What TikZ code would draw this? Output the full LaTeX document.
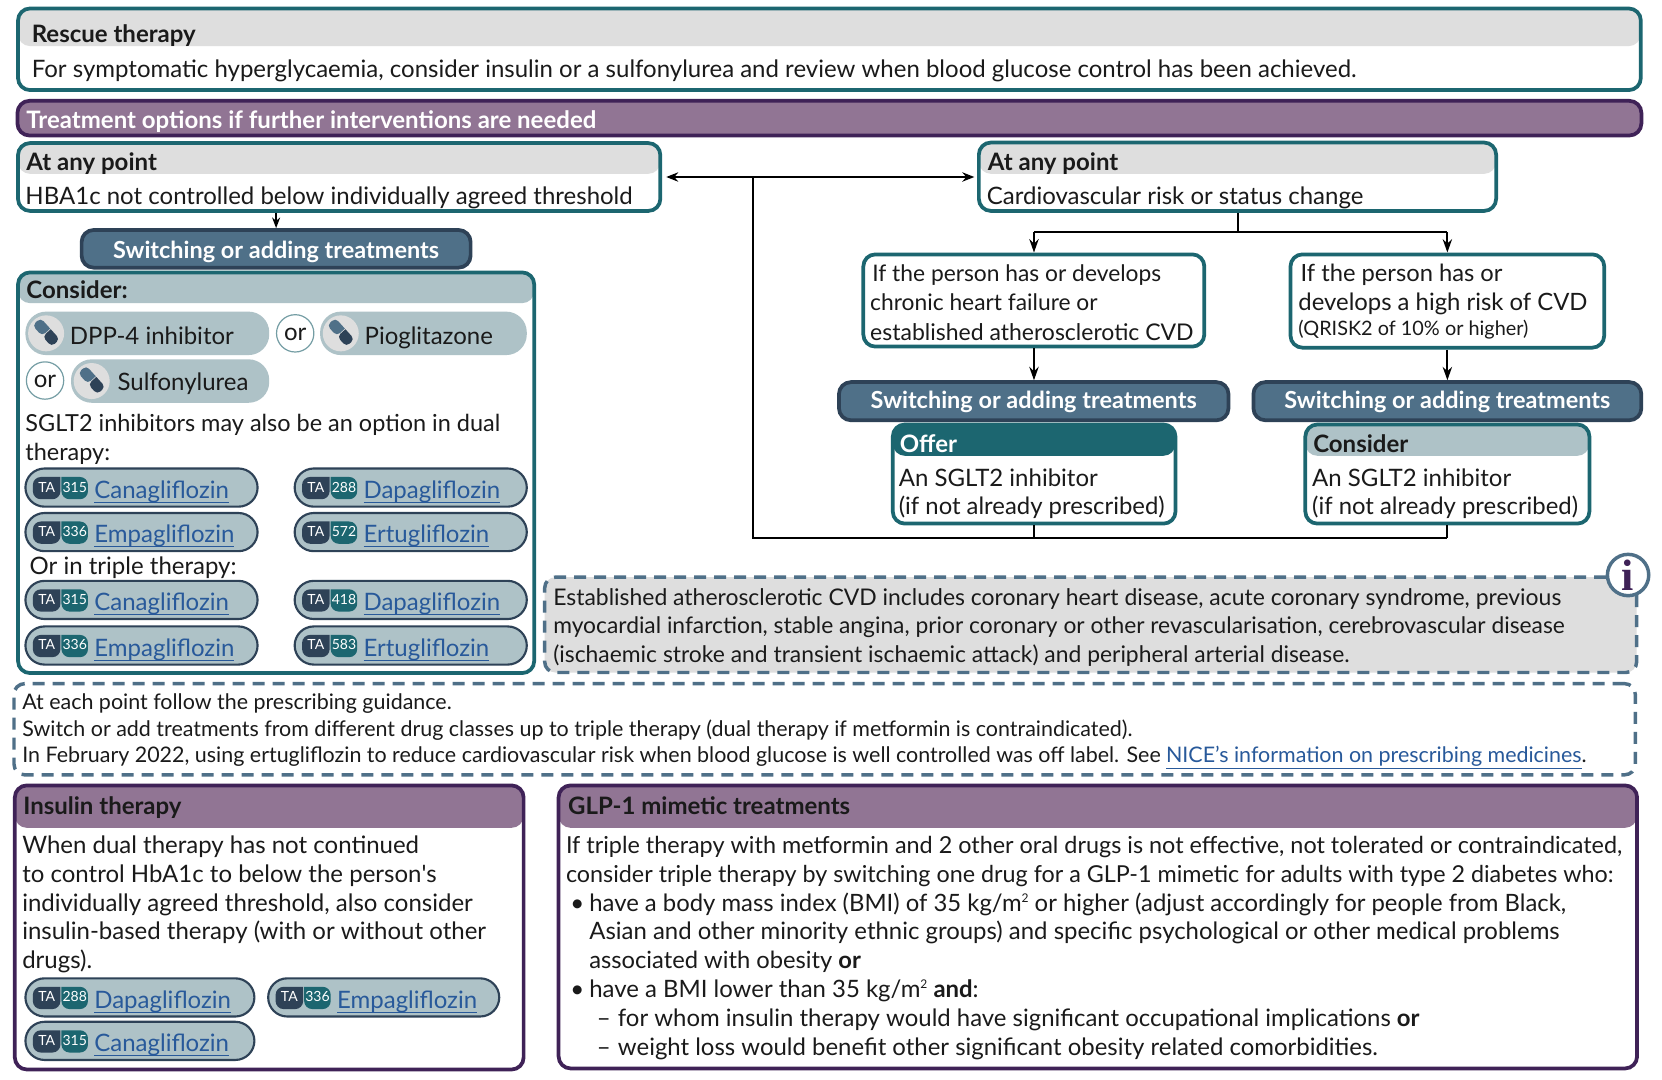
\documentclass[tikz,border=0pt]{standalone}
\usepackage{fontspec}
\setmainfont{Lato}
\newfontfamily\infofont{Liberation Serif}
\newfontfamily\rawlato{Lato}
\usetikzlibrary{arrows.meta}
\definecolor{tealc}{HTML}{1C6670}
\definecolor{greyh}{HTML}{DEDEDE}
\definecolor{purp}{HTML}{917594}
\definecolor{purpd}{HTML}{3F2257}
\definecolor{slate}{HTML}{4F7088}
\definecolor{slated}{HTML}{2E4257}
\definecolor{pale}{HTML}{AEC2C7}
\definecolor{linkc}{HTML}{28599A}
\definecolor{ink}{HTML}{1A1A1A}
\tikzset{
  x=0.795pt,y=-0.795pt,
  txt/.style={anchor=base west,inner sep=0pt,outer sep=0pt,font=\fontsize{18}{20}\selectfont,text=ink},
  fs/.style={font=\fontsize{#1}{20}\selectfont},
  headtxt/.style={txt,font=\fontsize{18}{20}\selectfont\bfseries,text=ink},
  whitetxt/.style={headtxt,text=white},
  conn/.style={draw=black,line width=1.5pt,-{Stealth[length=10pt,width=7pt]}},
  shortconn/.style={draw=black,line width=1.3pt,-{Stealth[length=8pt,width=6pt]}},
  plainconn/.style={draw=black,line width=1.5pt},
  dashbox/.style={draw=slate,line width=2.6pt,dash pattern=on 9pt off 6pt,rounded corners=8pt,inner sep=0pt},
}
% \mybox{name}{x1}{y1}{x2}{y2}{border}{header colour}{header height}
\newcommand{\mybox}[8]{%
  \pgfmathsetmacro{\bw}{(#4-#2)*0.795}\pgfmathsetmacro{\bh}{(#5-#3)*0.795}%
  \pgfmathsetmacro{\hh}{#8*0.795}%
  \node[draw=#6,line width=2.8pt,fill=white,rounded corners=9pt,minimum width=\bw pt,minimum height=\bh pt,inner sep=0pt,
    path picture={\fill[#7] (path picture bounding box.north west) rectangle ([yshift=-\hh pt]path picture bounding box.north east);}]
    (#1) at ({(#2+#4)/2},{(#3+#5)/2}) {};%
}
\newcommand{\swh}{12.5pt}
\newcommand{\swbar}[5]{%
  \pgfmathsetmacro{\bw}{(#4-#2)*0.795}\pgfmathsetmacro{\bh}{(#5-#3)*0.795}%
  \node[draw=slated,line width=2.8pt,fill=slate,rounded corners=9pt,minimum width=\bw pt,minimum height=\bh pt,inner sep=0pt,text=white,
    text depth=1pt,text height=\swh,font=\fontsize{17.6}{20}\selectfont\bfseries] (#1) at ({(#2+#4)/2},{(#3+#5)/2}) {Switching or adding treatments};%
}
% TA pill: \tapill{name}{x1}{y1}{x2}{number}{drug}
\newcommand{\tapill}[6]{%
  \pgfmathsetmacro{\bw}{(#4-#2)*0.795}\pgfmathsetmacro{\bh}{36*0.795}%
  \node[draw=slated,line width=1.6pt,fill=pale,rounded corners=14.3pt,minimum width=\bw pt,minimum height=\bh pt,inner sep=0pt] (#1) at ({(#2+#4)/2},{#3+18}) {};%
  \fill[slated,rounded corners=6pt] ({#2+33},{#3+8}) -- ({#2+7},{#3+8}) -- ({#2+7},{#3+29}) -- ({#2+33},{#3+29}) [sharp corners] -- cycle;%
  \fill[tealc,rounded corners=6pt] ({#2+34},{#3+8}) -- ({#2+59},{#3+8}) -- ({#2+59},{#3+29}) -- ({#2+34},{#3+29}) [sharp corners] -- cycle;%
  \node[inner sep=0pt,text=white,font=\fontsize{10.5}{12}\selectfont] (#1ta) at ({#2+20},{#3+17.5}) {TA};%
  \node[inner sep=0pt,text=white,font=\fontsize{10.5}{12}\selectfont] (#1num) at ({#2+46.5},{#3+17.5}) {#5};%
  \node[txt,text=linkc] (#1drug) at ({#2+65},{#3+28}) {#6};%
  \coordinate (#1u) at ({#2+65},{#3+32});%
  \draw[linkc,line width=0.8pt] (#1u) -- (#1u -| #1drug.base east);%
}
% \drugpill{name}{x1}{y1}{x2}{y2}
\newcommand{\drugpill}[5]{%
  \pgfmathsetmacro{\bw}{(#4-#2)*0.795}\pgfmathsetmacro{\bh}{(#5-#3)*0.795}%
  \node[fill=pale,rounded corners=15.5pt,minimum width=\bw pt,minimum height=\bh pt,inner sep=0pt] (#1) at ({(#2+#4)/2},{(#3+#5)/2}) {};%
  \node[fill=greyh,circle,minimum size=27pt,inner sep=0pt] (#1ic) at ({#2+19.5},{(#3+#5)/2}) {};%
  \begin{scope}[shift={({#2+19.5},{(#3+#5)/2-1})},rotate=-48]
    \fill[slate,rounded corners=3.2pt] (0,-5.2) -- (-13.5,-5.2) -- (-13.5,5.2) -- (0,5.2) [sharp corners] -- cycle;
    \fill[slated,rounded corners=3.2pt] (0.8,-5.2) -- (13.5,-5.2) -- (13.5,5.2) -- (0.8,5.2) [sharp corners] -- cycle;
  \end{scope}%
}
\newcommand{\orbub}[3]{%
  \node[draw=pale!60!tealc,line width=0.9pt,fill=white,circle,minimum size=28pt,inner sep=0pt,text height=10.5pt,font=\fontsize{18}{20}\selectfont,text=ink] (#1) at (#2,#3) {or};%
}
\newcommand{\suptwo}{\raisebox{6.5pt}{\fontsize{9}{9}\selectfont 2}}
\begin{document}
\begin{tikzpicture}
\useasboundingbox (0,0) rectangle (1568,1018);
\fill[white] (0,0) rectangle (1568,1018);
% Rescue
\mybox{rescue}{17}{8}{1548}{85}{tealc}{greyh}{35.5}
\node[headtxt] (rescuet) at (30,40) {Rescue therapy};
\node[txt] (rescueb) at (30,73) {For symptomatic hyperglycaemia, consider insulin or a sulfonylurea and review when blood glucose control has been achieved.};
% Purple bar
\node[draw=purpd,line width=2.8pt,fill=purp,rounded corners=9pt,minimum width=1218pt,minimum height=26pt,inner sep=0pt] (bar) at (782.5,111.5) {};
\node[whitetxt] (bart) at (25,121) {Treatment options if further interventions are needed};
% At any point
\mybox{anyl}{17}{135}{623}{199}{tealc}{greyh}{29}
\node[headtxt] (anylt) at (25,161) {At any point};
\node[txt] (anylb) at (24,193) {HBA1c not controlled below individually agreed threshold};
\mybox{anyr}{923.5}{134.5}{1411.5}{199}{tealc}{greyh}{29.5}
\node[headtxt] (anyrt) at (932,161) {At any point};
\node[txt] (anyrb) at (931,193) {Cardiovascular risk or status change};
% Switching
\renewcommand{\swh}{15.5pt}
\swbar{swl}{77}{217}{444}{252.5}
\renewcommand{\swh}{12.5pt}
\swbar{swm}{791.5}{360.5}{1159}{396.5}
\swbar{swr}{1182.5}{360.5}{1548.5}{396.5}
% Consider
\mybox{cons}{17}{257}{504}{635}{tealc}{pale}{29}
\node[headtxt] (const) at (25,282) {Consider:};
\drugpill{dpp}{24}{294}{254}{335}
\node[txt] (dppt) at (66,325) {DPP-4 inhibitor};
\orbub{or1}{278.5}{314.5}
\drugpill{pio}{302}{294}{497}{335}
\node[txt] (piot) at (344,325) {Pioglitazone};
\orbub{or2}{42.5}{359}
\drugpill{sul}{67}{339}{254}{380}
\node[txt] (sult) at (111,368.5) {Sulfonylurea};
\node[txt,fs=17.6] (sg1) at (24,407) {SGLT2 inhibitors may also be an option in dual};
\node[txt,fs=17.6] (sg2) at (24,434) {therapy:};
\tapill{p1}{24}{442}{243}{315}{Canagliflozin}
\tapill{p2}{278}{442}{497}{288}{Dapagliflozin}
\tapill{p3}{24}{484}{243}{336}{Empagliflozin}
\tapill{p4}{278}{484}{497}{572}{Ertugliflozin\hspace{5pt}}
\node[txt] (triple) at (28,542) {Or in triple therapy:};
\tapill{p5}{24}{548}{243}{315}{Canagliflozin}
\tapill{p6}{278}{548}{497}{418}{Dapagliflozin}
\tapill{p7}{24}{591}{243}{336}{Empagliflozin}
\tapill{p8}{278}{591}{497}{583}{Ertugliflozin\hspace{5pt}}
% If boxes
\mybox{ifl}{814.5}{240}{1136.2}{327}{tealc}{white}{0}
\node[txt,fs=17.1] (ifl1) at (823,266) {If the person has or develops};
\node[txt,fs=17.1] (ifl2) at (821,293) {chronic heart failure or};
\node[txt,fs=17.25] (ifl3) at (821,321) {established atherosclerotic CVD};
\mybox{ifr}{1217.5}{240}{1513.5}{328}{tealc}{white}{0}
\node[txt,fs=17.8] (ifr1) at (1227,266) {If the person has or};
\node[txt,fs=17.9] (ifr2) at (1225,293) {develops a high risk of CVD};
\node[txt,fs=14.9] (ifr3) at (1225,316.5) {(QRISK2 of 10\% or higher)};
% Offer / Consider
\mybox{off}{842.3}{400.5}{1109}{494}{tealc}{tealc}{29.5}
\node[whitetxt] (offt) at (849,427) {Offer};
\node[txt] (off1) at (848,459) {An SGLT2 inhibitor};
\node[txt,fs=17.9] (off2) at (848,485.5) {(if not already prescribed)};
\mybox{con2}{1231.5}{400.5}{1499.5}{494}{tealc}{pale}{29.5}
\node[headtxt] (con2t) at (1239,427) {Consider};
\node[txt] (con21) at (1238,459) {An SGLT2 inhibitor};
\node[txt,fs=17.9] (con22) at (1238,485.5) {(if not already prescribed)};
% Connectors
\coordinate (lmid) at (710,167);
\coordinate (bus) at (710,508);
\coordinate (forkc) at (1167.5,219);
\coordinate (forkl) at (975.5,219);
\coordinate (forkr) at (1365.5,219);
\draw[plainconn,{Stealth[length=9pt,width=7pt]}-{Stealth[length=9pt,width=7pt]},shorten <=3pt,shorten >=2pt] (anyl.east |- lmid) -- (anyr.west |- lmid);
\draw[plainconn] (lmid) -- (bus) -- (bus -| con2.south);
\draw[plainconn] (off.south) -- (off.south |- bus);
\draw[plainconn] (con2.south) -- (con2.south |- bus);
\draw[shortconn] (swl.north |- anyl.south) -- (swl.north);
\draw[plainconn] (anyr.south -| forkc) -- (forkc);
\draw[plainconn] (forkl) -- (forkr);
\draw[conn] (forkl) -- (ifl.north -| forkl);
\draw[conn] (forkr) -- (ifr.north -| forkr);
\draw[conn] (ifl.south -| forkl) -- (swm.north -| forkl);
\draw[conn] (ifr.south -| forkr) -- (swr.north -| forkr);
% Info box
\node[dashbox,fill=greyh,minimum width=819pt,minimum height=71.5pt] (info) at (1029,589.5) {};
\node[txt,fs=17.2] (in1) at (522,571) {Established atherosclerotic CVD includes coronary heart disease, acute coronary syndrome, previous};
\node[txt,fs=17.1] (in2) at (522,598) {myocardial infarction, stable angina, prior coronary or other revascularisation, cerebrovascular disease};
\node[txt,fs=17.15] (in3) at (522,625) {(ischaemic stroke and transient ischaemic attack) and peripheral arterial disease.};
\node[draw=slate,line width=2.6pt,fill=white,circle,minimum size=31pt,inner sep=0pt,text=purpd,font=\infofont\fontsize{33}{34}\selectfont\bfseries] (icon) at (1536,542.5) {i};
% Note box
\node[dashbox,minimum width=1216pt,minimum height=68.4pt] (note) at (778,688) {};
\node[txt,fs=16.08] (n1) at (21,669) {At each point follow the prescribing guidance.};
\node[txt,fs=16.08] (n2) at (21,695) {Switch or add treatments from different drug classes up to triple therapy (dual therapy if metformin is contraindicated).};
\node[txt,fs=16.08] (n3) at (21,719.5) {In February 2022, using ertugliflozin to reduce cardiovascular risk when blood glucose is well controlled was off label. See \textcolor{linkc}{\underline{NICE’s information on prescribing medicines}}.};
% Insulin
\mybox{ins}{14}{741}{494}{1009}{purpd}{purp}{40}
\node[headtxt] (inst) at (22,768) {Insulin therapy};
\node[txt] (i1) at (21,805) {When dual therapy has not continued};
\node[txt] (i2) at (21,833) {to control HbA1c to below the person{\rawlato\char"27}s};
\node[txt] (i3) at (21,860) {individually agreed threshold, also consider};
\node[txt] (i4) at (21,886.5) {insulin-based therapy (with or without other};
\node[txt] (i5) at (21,914) {drugs).};
\tapill{q1}{24}{923}{240}{288}{Dapagliflozin}
\tapill{q2}{253}{923}{471}{336}{Empagliflozin}
\tapill{q3}{24}{964}{240}{315}{Canagliflozin}
% GLP
\mybox{glp}{527}{741}{1544.5}{1008}{purpd}{purp}{40}
\node[headtxt] (glpt) at (536,768) {GLP-1 mimetic treatments};
\node[txt,fs=17.55] (g1) at (534,805) {If triple therapy with metformin and 2 other oral drugs is not effective, not tolerated or contraindicated,};
\node[txt,fs=17.5] (g2) at (534,833) {consider triple therapy by switching one drug for a GLP-1 mimetic for adults with type 2 diabetes who:};
\node[txt] (gb1) at (538,860) {•};
\node[txt,fs=17.9] (g3) at (556,860) {have a body mass index (BMI) of 35 kg/m\suptwo{} or higher (adjust accordingly for people from Black,};
\node[txt,fs=17.95] (g4) at (556,886.5) {Asian and other minority ethnic groups) and specific psychological or other medical problems};
\node[txt,fs=17.8] (g5) at (556,914) {associated with obesity \textbf{or}};
\node[txt] (gb2) at (538,941) {•};
\node[txt,fs=17.95] (g6) at (556,941) {have a BMI lower than 35 kg/m\suptwo{} \textbf{and}:};
\node[txt] (gd1) at (563,968) {–};
\node[txt,fs=17.95] (g7) at (583,968) {for whom insulin therapy would have significant occupational implications \textbf{or}};
\node[txt] (gd2) at (563,995.5) {–};
\node[txt,fs=17.95] (g8) at (583,995.5) {weight loss would benefit other significant obesity related comorbidities.};
\end{tikzpicture}
\end{document}
